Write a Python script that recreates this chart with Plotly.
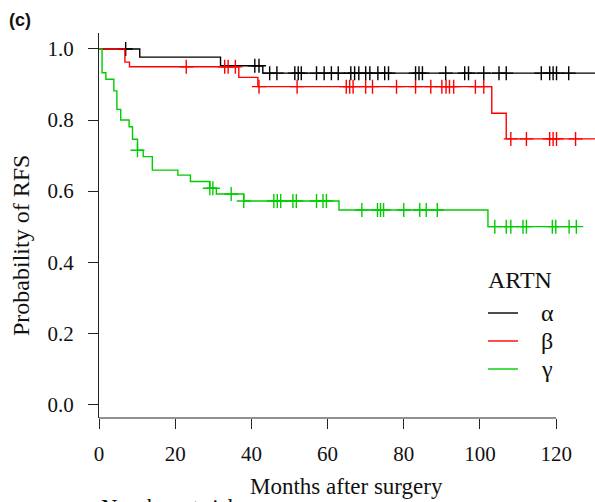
import numpy as np
import plotly.graph_objects as go

# ---------------- data ----------------
groups = ["α", "β", "γ"]
colors = ["#000000", "#FF0000", "#00CD00"]

alpha_event_times = [10.7, 31.9, 43.0]
alpha_surv = [0.977, 0.953, 0.932]
alpha_censor_times = [7.0, 40.9, 42.0, 44.8, 46.7, 51.4, 52.3, 53.1, 57.1, 59.1,
                      61.0, 62.8, 66.1, 67.1, 68.2, 70.0, 71.1, 73.2, 75.0, 76.0,
                      83.1, 84.0, 84.9, 91.0, 96.0, 97.0, 101.0, 105.0, 106.9,
                      116.1, 118.3, 119.2, 120.1, 123.3]
alpha_end = 131.0

beta_event_times = [6.8, 8.0, 36.7, 41.7, 103.1, 106.9]
beta_surv = [0.963, 0.950, 0.920, 0.894, 0.819, 0.747]
beta_censor_times = [22.9, 33.0, 33.9, 35.8, 42.0, 52.0, 64.9, 65.8, 66.7, 70.0,
                     71.8, 78.1, 83.1, 87.1, 90.0, 91.1, 92.0, 93.1, 98.8, 101.0,
                     108.1, 112.2, 118.3, 119.2, 120.1, 125.1]
beta_end = 131.0

gamma_event_times = [0.8, 1.8, 3.9, 4.7, 5.7, 7.9, 8.8, 10.1, 11.6, 14.0, 20.7,
                     24.0, 29.1, 30.8, 38.0, 63.0, 102.1]
gamma_surv = [0.933, 0.915, 0.882, 0.830, 0.800, 0.781, 0.746, 0.715, 0.697,
              0.659, 0.645, 0.627, 0.608, 0.592, 0.572, 0.547, 0.500]
gamma_censor_times = [10.1, 29.1, 29.9, 34.7, 38.0, 45.9, 46.8, 47.7, 50.9, 51.8,
                      57.1, 58.8, 59.7, 69.0, 73.1, 73.9, 74.7, 80.0, 84.2, 85.9,
                      88.8, 103.9, 106.9, 108.1, 111.3, 112.2, 119.0, 119.9,
                      123.4, 125.3]
gamma_end = 125.3

x_ticks = [0, 20, 40, 60, 80, 100, 120]
y_ticks = [0.0, 0.2, 0.4, 0.6, 0.8, 1.0]
y_ticktext = ["0.0", "0.2", "0.4", "0.6", "0.8", "1.0"]

series = [
    (alpha_event_times, alpha_surv, alpha_censor_times, alpha_end),
    (beta_event_times, beta_surv, beta_censor_times, beta_end),
    (gamma_event_times, gamma_surv, gamma_censor_times, gamma_end),
]

# ---------------- layout geometry ----------------
W, H = 595, 502
L, R, T, B = 99, 0, 33, 84
PW, PH = W - L - R, H - T - B
SERIF = "Liberation Serif"


def px(x):
    return (x - L) / PW


def py(y):
    return (H - B - y) / PH


fig = go.Figure()

for (et, sv, ct, end), col, name in zip(series, colors, groups):
    xs = [0.0] + list(et) + [end]
    ys = [1.0] + list(sv) + [sv[-1]]
    fig.add_trace(go.Scatter(x=xs, y=ys, mode="lines", line=dict(color=col, width=1.4, shape="hv"),
                             name=name, showlegend=False, hoverinfo="skip"))
    et_a = np.array(et)
    sv_a = np.array([1.0] + list(sv))
    idx = np.searchsorted(et_a, np.array(ct), side="right")
    cy = sv_a[idx]
    fig.add_trace(go.Scatter(x=ct, y=cy, mode="markers",
                             marker=dict(symbol="cross-thin", size=10, line=dict(color=col, width=1.4)),
                             showlegend=False, hoverinfo="skip"))

# x axis line from first to last tick
fig.add_shape(type="line", xref="x", yref="paper", x0=x_ticks[0], x1=x_ticks[-1], y0=0, y1=0,
              line=dict(color="#222222", width=1.2))

# legend drawn manually
leg_y = [313, 341, 369]
for col, name, yy in zip(colors, groups, leg_y):
    fig.add_shape(type="line", xref="paper", yref="paper", x0=px(488), x1=px(518), y0=py(yy), y1=py(yy),
                  line=dict(color=col, width=1.4))
    fig.add_annotation(text=name, xref="paper", yref="paper", x=px(547), y=py(yy), showarrow=False,
                       xanchor="center", yanchor="middle", font=dict(family=SERIF, size=24, color="#111111"))
fig.add_annotation(text="ARTN", xref="paper", yref="paper", x=px(520), y=py(280), showarrow=False,
                   xanchor="center", yanchor="middle", font=dict(family=SERIF, size=24, color="#111111"))

# titles
fig.add_annotation(text="<b>(c)</b>", xref="paper", yref="paper", x=px(7), y=py(20), showarrow=False,
                   xanchor="left", yanchor="middle", font=dict(family="Liberation Sans", size=18, color="#111111"))
fig.add_annotation(text="Probability of RFS", xref="paper", yref="paper", x=px(21), y=py(246),
                   showarrow=False, textangle=-90, xanchor="center", yanchor="middle",
                   font=dict(family=SERIF, size=24, color="#111111"))
fig.add_annotation(text="Months after surgery", xref="paper", yref="paper", x=px(346), y=py(486),
                   showarrow=False, xanchor="center", yanchor="middle",
                   font=dict(family=SERIF, size=23, color="#111111"))
fig.add_annotation(text="Number at risk", xref="paper", yref="paper", x=px(99), y=py(493),
                   showarrow=False, xanchor="left", yanchor="top",
                   font=dict(family=SERIF, size=23, color="#111111"))

fig.update_layout(
    width=W, height=H, autosize=False,
    margin=dict(l=L, r=R, t=T, b=B, pad=0),
    paper_bgcolor="white", plot_bgcolor="white",
    xaxis=dict(range=[0, 130.2], showline=False, showgrid=False, zeroline=False,
               ticks="outside", ticklen=10, tickwidth=1.2, tickcolor="#222222",
               tickvals=x_ticks, ticktext=[str(v) for v in x_ticks],
               tickfont=dict(family=SERIF, size=21, color="#111111"), ticklabelstandoff=7),
    yaxis=dict(range=[-0.0386, 1.045], showline=True, linecolor="#222222", linewidth=1.2,
               showgrid=False, zeroline=False,
               ticks="outside", ticklen=10, tickwidth=1.2, tickcolor="#222222",
               tickvals=y_ticks, ticktext=y_ticktext,
               tickfont=dict(family=SERIF, size=21, color="#111111"), ticklabelstandoff=10),
)

fig.write_html("out.html", config={"displayModeBar": False},
               post_script="document.body.style.margin='0';document.body.style.overflow='hidden';")
